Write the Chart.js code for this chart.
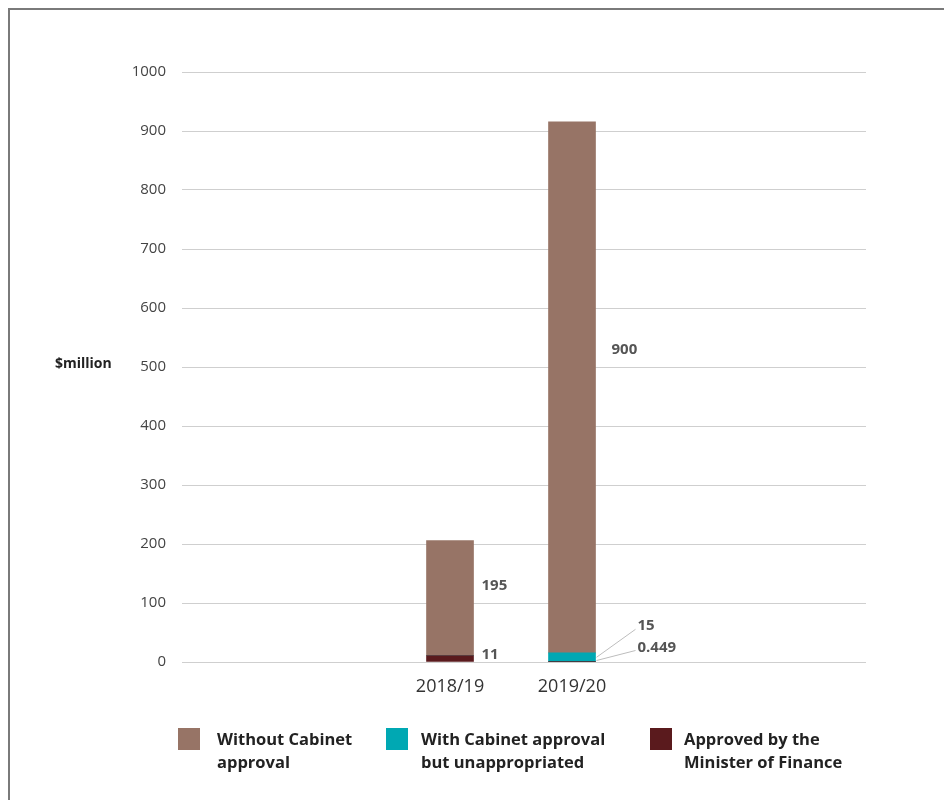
<!DOCTYPE html>
<html><head><meta charset="utf-8">
<script src="https://cdn.jsdelivr.net/npm/chart.js@4/dist/chart.umd.min.js"></script>
<style>
html,body{margin:0;padding:0;background:#fff;width:944px;height:800px;overflow:hidden;}
#frame{position:absolute;left:8px;top:8px;width:1000px;height:1000px;border-left:2px solid #7a7a7a;border-top:2px solid #7a7a7a;}
#wrap{position:absolute;left:0;top:0;width:944px;height:800px;}
.leg{position:absolute;top:728px;font-family:"Open Sans",sans-serif;font-weight:700;font-size:16.5px;line-height:23px;color:#222;}
.box{position:absolute;top:728px;width:22px;height:22px;}
</style></head>
<body>
<div id="frame"></div>
<div id="wrap"><canvas id="c" width="944" height="800"></canvas></div>
<div class="box" style="left:178px;background:#977466"></div>
<div class="leg" style="left:217px;top:727px">Without Cabinet<br>approval</div>
<div class="box" style="left:386px;background:#00a8b3"></div>
<div class="leg" style="left:421px;top:727px">With Cabinet approval<br>but unappropriated</div>
<div class="box" style="left:650px;background:#5a1a1d"></div>
<div class="leg" style="left:684px;top:727px">Approved by the<br>Minister of Finance</div>
<script>
const categories = ['2018/19', '2019/20'];
const seriesNames = ['Approved by the Minister of Finance', 'With Cabinet approval but unappropriated', 'Without Cabinet approval'];
const ministerValues = [11, 0.449];
const withCabinetValues = [0, 15];
const withoutCabinetValues = [195, 900];
const yTicks = [0, 100, 200, 300, 400, 500, 600, 700, 800, 900, 1000];

const FONT = '"Open Sans", sans-serif';
const labelFrac = [0.39, 0.43];

const labelsPlugin = {
  id: 'labels',
  afterDatasetsDraw(chart) {
    const ctx = chart.ctx;
    ctx.save();
    ctx.font = 'bold 15px ' + FONT;
    ctx.fillStyle = '#555';
    ctx.textBaseline = 'middle';
    ctx.textAlign = 'left';
    const mWo = chart.getDatasetMeta(2);
    mWo.data.forEach((el, i) => {
      const top = el.y, base = el.base;
      const x = el.x + el.width / 2 + 8;
      const y = top + (base - top) * labelFrac[i];
      ctx.fillText(String(withoutCabinetValues[i]), x + (i === 1 ? 8 : 0), y);
    });
    const mMin = chart.getDatasetMeta(0);
    const e0 = mMin.data[0];
    ctx.fillText(String(ministerValues[0]), e0.x + e0.width / 2 + 8, (e0.y + e0.base) / 2 - 4);
    const mWith = chart.getDatasetMeta(1);
    const e1 = mWith.data[1];
    const e01 = mMin.data[1];
    const rx = e1.x + e1.width / 2 + 1;
    ctx.strokeStyle = '#bdbdbd';
    ctx.lineWidth = 1;
    ctx.beginPath();
    ctx.moveTo(rx, (e1.y + e1.base) / 2);
    ctx.lineTo(rx + 39, (e1.y + e1.base) / 2 - 28);
    ctx.moveTo(rx, e01.base - 1);
    ctx.lineTo(rx + 39, e01.base - 11);
    ctx.stroke();
    ctx.fillText(String(withCabinetValues[1]), rx + 41, (e1.y + e1.base) / 2 - 32);
    ctx.fillText(String(ministerValues[1]), rx + 41, e01.base - 14);
    ctx.font = 'bold 14px ' + FONT;
    ctx.fillStyle = '#222';
    const ys = chart.scales.y;
    ctx.fillText('$million', 55, ys.getPixelForValue(500) - 3);
    ctx.restore();
  }
};

new Chart(document.getElementById('c'), {
  type: 'bar',
  data: {
    datasets: [
      { label: seriesNames[0], data: ministerValues.map((v, i) => ({ x: i, y: v })), backgroundColor: '#5a1a1d' },
      { label: seriesNames[1], data: withCabinetValues.map((v, i) => ({ x: i, y: v })), backgroundColor: '#00a8b3' },
      { label: seriesNames[2], data: withoutCabinetValues.map((v, i) => ({ x: i, y: v })), backgroundColor: '#977466' }
    ]
  },
  options: {
    responsive: false,
    animation: false,
    devicePixelRatio: 1,
    layout: { padding: { top: 72, right: 78, left: 0, bottom: 0 } },
    datasets: { bar: { barThickness: 47 } },
    plugins: { legend: { display: false }, tooltip: { enabled: false } },
    scales: {
      x: {
        type: 'linear', stacked: true, min: -2.197, max: 3.41, offset: false,
        grid: { display: false, drawTicks: false },
        border: { display: false },
        afterBuildTicks(s) { s.ticks = categories.map((c, i) => ({ value: i })); },
        afterFit(s) { s.height = 138; },
        ticks: { padding: 14, color: '#333', font: { family: FONT, size: 18 }, callback: (v) => categories[v] ?? '' }
      },
      y: {
        stacked: true, min: 0, max: 1000,
        afterBuildTicks(s) { s.ticks = yTicks.map(v => ({ value: v })); },
        afterFit(s) { s.width = 182; },
        grid: { color: '#cfcfcf', lineWidth: 1, drawTicks: false },
        border: { display: false },
        ticks: { padding: 16, color: '#444', font: { family: FONT, size: 15 }, callback: (v) => String(v) }
      }
    }
  },
  plugins: [labelsPlugin]
});
</script>
</body></html>
